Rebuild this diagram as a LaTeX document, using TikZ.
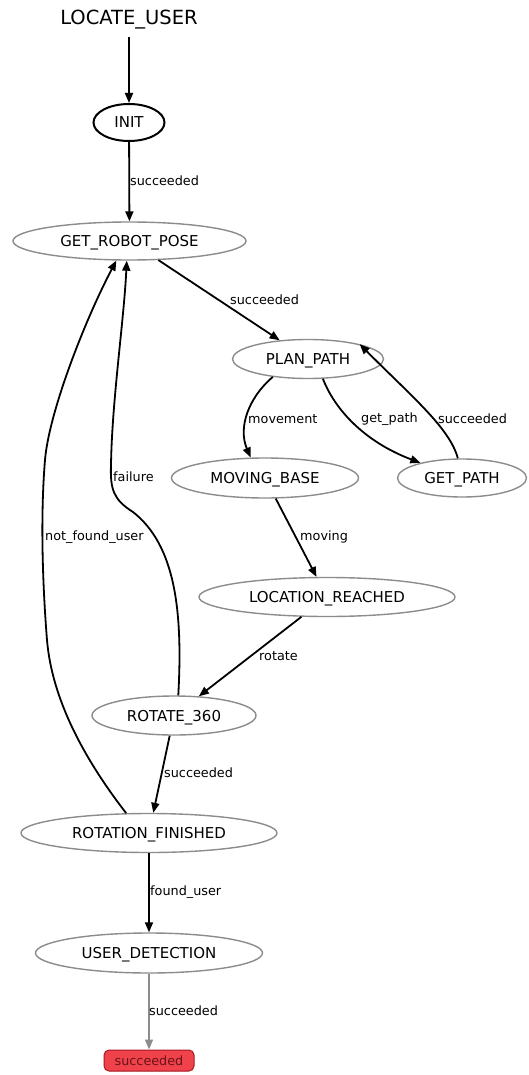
\documentclass[tikz,border=0pt]{standalone}
\usepackage{fontspec}
\setmainfont{DejaVu Sans}
\usetikzlibrary{shapes.geometric,arrows.meta}

\definecolor{stategray}{RGB}{140,140,140}
\definecolor{donefill}{RGB}{240,66,74}
\definecolor{donedraw}{RGB}{165,25,35}
\definecolor{donetext}{RGB}{105,20,25}

\begin{document}
\begin{tikzpicture}[x=1pt,y=-1pt,
    state/.style={ellipse,draw=stategray,line width=1.4pt,inner sep=0pt,
      text depth=0pt,font=\fontsize{15}{18}\selectfont},
    edgelabel/.style={anchor=west,inner sep=0pt,
      font=\fontsize{12.8}{15}\selectfont},
    trans/.style={-{Triangle[length=10pt,width=8pt]},line width=1.8pt}]

  % Fix the page to the size of the screenshot.
  \path[use as bounding box,fill=white] (0,0) rectangle (528,1075);

  % The container and its first state.
  \node (title) [anchor=base,inner sep=7pt,font=\fontsize{19.5}{22}\selectfont]
    at (129,25) {LOCATE\_USER};
  \node (init) [state,draw=black,line width=2pt,minimum width=71pt,
    minimum height=37pt] at (129,122.5) {INIT};

  % The other states, top to bottom.
  \node (grp) [state,minimum width=233pt,minimum height=38pt]
    at (129.5,241) {GET\_ROBOT\_POSE};
  \node (plan) [state,minimum width=151pt,minimum height=39pt]
    at (308,359) {PLAN\_PATH};
  \node (mb) [state,minimum width=187pt,minimum height=40pt]
    at (265,478) {MOVING\_BASE};
  \node (gp) [state,minimum width=129pt,minimum height=38pt]
    at (462,478) {GET\_PATH};
  \node (lr) [state,minimum width=256pt,minimum height=39pt]
    at (327,597) {LOCATION\_REACHED};
  \node (rot) [state,minimum width=164pt,minimum height=39pt]
    at (174,715.5) {ROTATE\_360};
  \node (rotfin) [state,minimum width=256pt,minimum height=39pt]
    at (149,833) {ROTATION\_FINISHED};
  \node (userdet) [state,minimum width=227pt,minimum height=40pt]
    at (149,953) {USER\_DETECTION};

  % The outcome of the container.
  \node (done) [rectangle,rounded corners=5pt,fill=donefill,draw=donedraw,
    line width=1pt,text=donetext,minimum width=90pt,minimum height=21pt,
    inner sep=0pt,font=\fontsize{12.8}{15}\selectfont]
    at (149,1060.5) {succeeded};

  % Straight transitions.
  \draw[trans] (title) -- (init);
  \draw[trans] (init) -- (grp);
  \draw[trans] (grp) -- (plan);
  \draw[trans] (mb) -- (lr);
  \draw[trans] (lr) -- (rot);
  \draw[trans] (rot) -- (rotfin);
  \draw[trans] (rotfin) -- (userdet);
  \draw[trans,line width=1.4pt,draw=stategray,fill=stategray] (userdet) -- (done);

  % Curved transitions.
  \draw[trans] (plan.207) .. controls (248,398) and (238,428) .. (mb.125);
  \draw[trans] (plan.307) .. controls (335,410) and (365,442) .. (gp.160);
  \draw[trans] (gp.102) .. controls (450,428) and (410,395) .. (plan.16);

  % The two ways back to GET_ROBOT_POSE.
  \draw[trans] (rot.78) .. controls (183,610) and (175,545) .. (133,512)
    .. controls (114,500) and (110,490) .. (111,465)
    .. controls (112,400) and (124,320) .. (grp.262);
  \draw[trans] (rotfin.139) .. controls (85,760) and (52,700) .. (47,640)
    .. controls (43,590) and (40,520) .. (45,460)
    .. controls (49,412) and (85,320) .. (grp.236);

  % Labels of the transitions.
  \node (lblinit) [edgelabel] at (130,181) {succeeded};
  \node (lblgrp) [edgelabel] at (230,299.5) {succeeded};
  \node (lblmove) [edgelabel] at (248,419) {movement};
  \node (lblget) [edgelabel] at (361,419) {get\_path};
  \node (lblgetback) [edgelabel] at (438,419) {succeeded};
  \node (lblfail) [edgelabel] at (113,477) {failure};
  \node (lblnotfound) [edgelabel] at (45,537) {not\_found\_user};
  \node (lblmoving) [edgelabel] at (300,537) {moving};
  \node (lblrotate) [edgelabel] at (259,656) {rotate};
  \node (lblrot) [edgelabel] at (164,773) {succeeded};
  \node (lblfound) [edgelabel] at (150,892) {found\_user};
  \node (lbldone) [edgelabel] at (149,1011) {succeeded};
\end{tikzpicture}
\end{document}
